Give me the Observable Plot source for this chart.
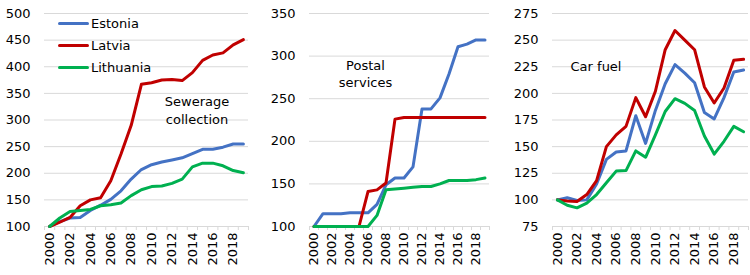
<!DOCTYPE html>
<html>
<head>
<meta charset="utf-8">
<script src="https://cdn.jsdelivr.net/npm/d3@7"></script>
<script src="https://cdn.jsdelivr.net/npm/@observablehq/plot@0.6"></script>
<style>
  html, body { margin: 0; padding: 0; background: #fff; }
  #chart { position: relative; width: 750px; height: 275px; display: flex; font-family: "DejaVu Sans", sans-serif; }
  #chart svg { display: block; }
  .legend { position: absolute; left: 58px; top: 12px; font-size: 13px; color: #000; }
  .legend .row { display: flex; align-items: center; height: 22px; }
  .legend .sw { width: 31px; height: 3px; border-radius: 2px; margin-right: 2px; }
</style>
</head>
<body>
<div id="chart"></div>
<script>
// Categories
const years = [2000,2001,2002,2003,2004,2005,2006,2007,2008,2009,2010,2011,2012,2013,2014,2015,2016,2017,2018,2019];
const yearLabels = [2000,2002,2004,2006,2008,2010,2012,2014,2016,2018];
const countries = ["Estonia", "Latvia", "Lithuania"];
const colors = ["#4472C4", "#C00000", "#00B050"];

// Sewerage collection
const sewerEstonia   = [100,109,116,117,130,140,151,167,189,207,216,221,225,229,237,245,245,249,255,255];
const sewerLatvia    = [100,108,117,139,150,154,186,236,290,367,370,375,376,374,389,412,422,426,441,451];
const sewerLithuania = [100,116,128,130,132,139,141,144,158,169,175,176,181,189,212,219,219,214,205,201];
const sewerTicks = [100,150,200,250,300,350,400,450,500];

// Postal services
const postalEstonia   = [100,115,115,115,116,116,116,126,149,157,157,170,238,238,251,279,311,314,319,319];
const postalLatvia    = [100,100,100,100,100,100,141,143,151,226,228,228,228,228,228,228,228,228,228,228];
const postalLithuania = [100,100,100,100,100,100,100,113,143,144,145,146,147,147,150,154,154,154,155,157];
const postalTicks = [100,150,200,250,300,350];

// Car fuel
const fuelEstonia   = [100,102,99.5,100,115,138,145,146,179,153,184,209,227,219,210,182,176,196,220,222];
const fuelLatvia    = [100,99,98.5,105,118,150,161,169,196,178,202,241,259,250,241,206,191,205,231,232];
const fuelLithuania = [100,95,92.5,97,105,116,127,127.5,146,140,161,183,195,190.6,184,160,143,155,169,164];
const fuelTicks = [75,100,125,150,175,200,225,250,275];

function toRows(series) {
  const rows = [];
  countries.forEach((c, i) => years.forEach((yr, j) => rows.push({country: c, year: yr, value: series[i][j]})));
  return rows;
}

const boundaries = years.map(y => y - 0.5).concat([years[years.length - 1] + 0.5]);

function panel({series, ticks, marginLeft, marginRight, label, dx, dy}) {
  return Plot.plot({
    width: 250,
    height: 275,
    marginTop: 13,
    marginBottom: 49,
    marginLeft,
    marginRight,
    style: {fontFamily: "DejaVu Sans, sans-serif", fontSize: "13px", color: "#000", background: "#fff", overflow: "visible"},
    x: {domain: [boundaries[0], boundaries[boundaries.length - 1]]},
    y: {domain: [ticks[0], ticks[ticks.length - 1]]},
    color: {domain: countries, range: colors},
    marks: [
      Plot.gridY(ticks, {stroke: "#d9d9d9", strokeOpacity: 1, strokeWidth: 1}),
      Plot.axisY(ticks, {tickSize: 0, tickPadding: 14, label: null, fill: "#000"}),
      Plot.axisX(boundaries, {tickSize: 4, tickFormat: () => "", stroke: "#d9d9d9", strokeOpacity: 1, label: null}),
      Plot.axisX(yearLabels, {tickSize: 0, tickPadding: 6, tickRotate: -90, tickFormat: d => String(d), label: null, fill: "#000"}),
      Plot.line(toRows(series), {x: "year", y: "value", z: "country", stroke: "country", strokeWidth: 3, strokeLinejoin: "round", strokeLinecap: "round"}),
      Plot.text([label], {frameAnchor: "top-left", dx, dy, textAnchor: "middle", lineAnchor: "middle", lineHeight: 1.35, fill: "#000", fontSize: 13})
    ]
  });
}

const chart = document.getElementById("chart");
chart.append(
  panel({series: [sewerEstonia, sewerLatvia, sewerLithuania], ticks: sewerTicks, marginLeft: 44, marginRight: 2, label: "Sewerage\ncollection", dx: 152.5, dy: 96}),
  panel({series: [postalEstonia, postalLatvia, postalLithuania], ticks: postalTicks, marginLeft: 59, marginRight: 11, label: "Postal\nservices", dx: 56, dy: 59.5}),
  panel({series: [fuelEstonia, fuelLatvia, fuelLithuania], ticks: fuelTicks, marginLeft: 52, marginRight: 2, label: "Car fuel", dx: 43.5, dy: 51.5})
);

const legend = document.createElement("div");
legend.className = "legend";
countries.forEach((c, i) => {
  const row = document.createElement("div");
  row.className = "row";
  const sw = document.createElement("span");
  sw.className = "sw";
  sw.style.background = colors[i];
  const t = document.createElement("span");
  t.textContent = c;
  row.append(sw, t);
  legend.append(row);
});
chart.append(legend);
</script>
</body>
</html>
